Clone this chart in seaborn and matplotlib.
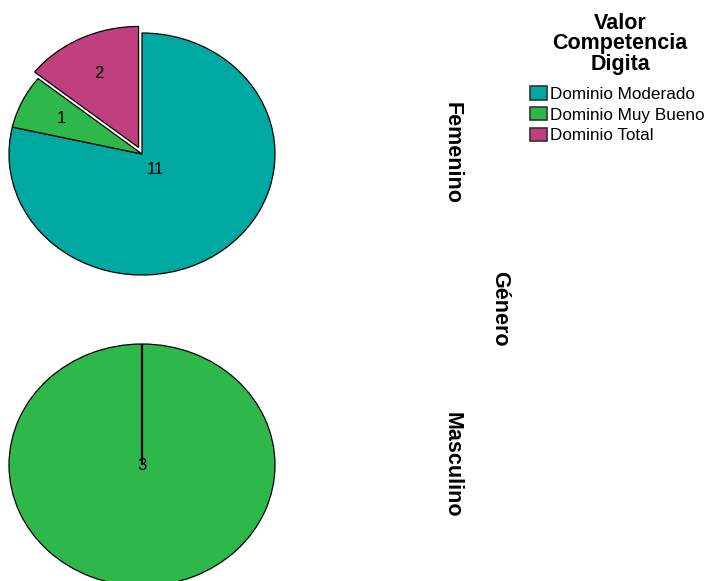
import numpy as np
import matplotlib
matplotlib.use("Agg")
from matplotlib import pyplot as plt
from matplotlib.patches import Patch
import seaborn as sns

sns.set_theme(style="white")
plt.rcParams['font.family'] = ['Liberation Sans', 'DejaVu Sans']
plt.rcParams['text.color'] = 'black'

# data
categories = ['Dominio Moderado', 'Dominio Muy Bueno', 'Dominio Total']
groups = ['Femenino', 'Masculino']
femenino_counts = [11, 1, 2]
masculino_counts = [0, 3, 0]

colors = ['#00A8A2', '#2EB84A', '#C0407F']
explode_fem = [0, 0, 0.06]
label_dist = {'Femenino': [0.165, 0.67, 0.68], 'Masculino': [0, 0, 0]}

W, H = 708, 581
fig = plt.figure(figsize=(W / 100, H / 100), dpi=100)


def pie_axes(cx, cy, rx, ry, lim=1.15):
    # axes in pixel terms, pie radius 1 maps onto rx, ry
    w = 2 * lim * rx
    h = 2 * lim * ry
    ax = fig.add_axes([(cx - w / 2) / W, (H - cy - h / 2) / H, w / W, h / H])
    return ax


def draw_pie(ax, counts, explode, dists):
    wedges, _ = ax.pie(counts, colors=colors, explode=explode, startangle=90,
                       counterclock=False, normalize=True,
                       wedgeprops=dict(edgecolor='black', linewidth=0.9))
    ax.set_aspect('auto')
    ax.set_xlim(-1.15, 1.15)
    ax.set_ylim(-1.15, 1.15)
    for w, n, d in zip(wedges, counts, dists):
        if n == 0:
            # empty categories collapse into the radial line at the top
            w.set_linewidth(1.6)
            continue
        mid = np.deg2rad((w.theta1 + w.theta2) / 2)
        x = w.center[0] + d * w.r * np.cos(mid)
        y = w.center[1] + d * w.r * np.sin(mid)
        ax.text(x, y, str(n), ha='center', va='center', fontsize=12, color='black')
    ax.axis('off')


ax1 = pie_axes(142, 154, 133, 121)
draw_pie(ax1, femenino_counts, explode_fem, label_dist['Femenino'])

ax2 = pie_axes(142, 465, 133, 121)
draw_pie(ax2, masculino_counts, [0, 0, 0], label_dist['Masculino'])

# row labels
fig.text(452 / W, 1 - 153 / H, groups[0], rotation=-90, ha='center', va='center',
         fontsize=15.5, fontweight='bold')
fig.text(452 / W, 1 - 465 / H, groups[1], rotation=-90, ha='center', va='center',
         fontsize=15.5, fontweight='bold')
fig.text(500 / W, 1 - 309 / H, 'Género', rotation=-90, ha='center', va='center',
         fontsize=15.5, fontweight='bold')

# legend title drawn separately so it sits like the original
fig.text(620 / W, 1 - 44 / H, 'Valor\nCompetencia\nDigita', ha='center', va='center',
         multialignment='center', linespacing=0.95, fontsize=15.5, fontweight='bold')

handles = [Patch(facecolor=c, edgecolor='#333333', linewidth=1.2) for c in colors]
leg = fig.legend(handles, categories,
                 loc='upper left', bbox_to_anchor=(530 / W, 1 - 86 / H),
                 frameon=False, fontsize=12.3, handlelength=1.0, handleheight=0.85,
                 handletextpad=0.18, labelspacing=0.3, borderpad=0, borderaxespad=0)

fig.savefig('out.png', dpi=100)
